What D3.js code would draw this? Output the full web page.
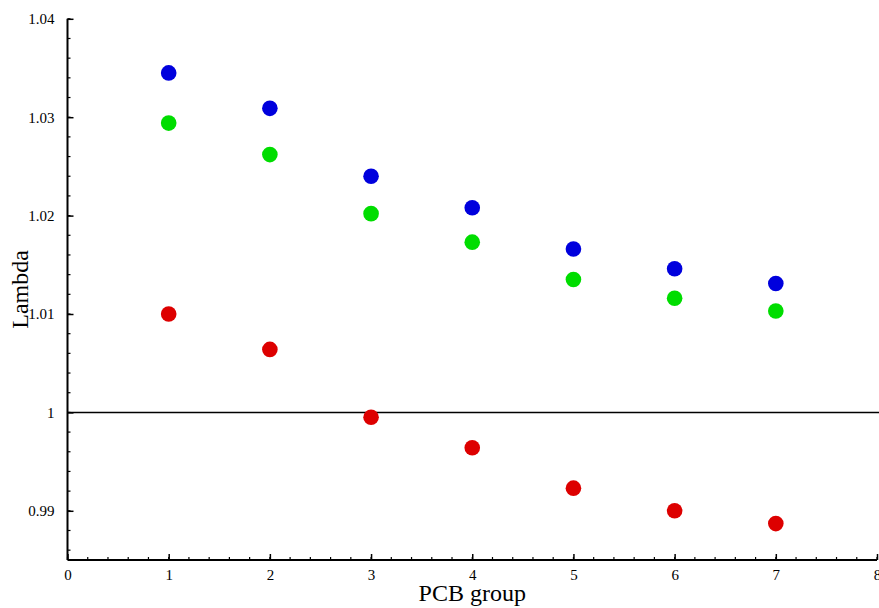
<!DOCTYPE html>
<html>
<head>
<meta charset="utf-8">
<script src="https://cdn.jsdelivr.net/npm/d3@7"></script>
<style>
  body { margin: 0; background: #fff; }
  svg text { font-family: "Liberation Serif", "DejaVu Serif", serif; fill: #000; }
</style>
</head>
<body>
<svg id="chart" width="879" height="608"></svg>
<script>
// PCB groups on the x axis
const groups = [1, 2, 3, 4, 5, 6, 7];

// lambda values per series
const blueValues  = [1.0345, 1.0309, 1.0240, 1.0208, 1.0166, 1.0146, 1.0131];
const greenValues = [1.0294, 1.0262, 1.0202, 1.0173, 1.0135, 1.0116, 1.0103];
const redValues   = [1.0100, 1.0064, 0.9995, 0.9964, 0.9923, 0.9900, 0.9887];

const xTicks = [0, 1, 2, 3, 4, 5, 6, 7, 8];
const yTicks = [0.99, 1, 1.01, 1.02, 1.03, 1.04];

const series = [
    {values: blueValues,  color: "#0000dd"},
    {values: greenValues, color: "#00dd00"},
    {values: redValues,   color: "#dd0000"}
];

const svg = d3.select("#chart");

const plotLeft = 67.5, plotRight = 877, plotTop = 18.8, plotBottom = 560;

const x = d3.scaleLinear().domain([0, 8]).range([plotLeft, plotRight]);
const y = d3.scaleLinear().domain([0.985, 1.04]).range([plotBottom, plotTop]);

// reference line at lambda = 1
svg.append("line")
    .attr("x1", plotLeft).attr("x2", 879)
    .attr("y1", y(1)).attr("y2", y(1))
    .attr("stroke", "#000")
    .attr("stroke-width", 1.5);

// minor ticks
const xMinor = d3.range(0, 8.001, 0.2);
const yMinor = d3.range(0.986, 1.0401, 0.002);

svg.append("g").selectAll("line")
    .data(xMinor)
    .enter().append("line")
    .attr("x1", d => x(d)).attr("x2", d => x(d))
    .attr("y1", plotBottom).attr("y2", plotBottom - 3)
    .attr("stroke", "#000").attr("stroke-width", 1.2);

svg.append("g").selectAll("line")
    .data(yMinor)
    .enter().append("line")
    .attr("x1", plotLeft).attr("x2", plotLeft + 3)
    .attr("y1", d => y(d)).attr("y2", d => y(d))
    .attr("stroke", "#000").attr("stroke-width", 1.2);

// X axis (ticks pointing inward)
const xAxis = svg.append("g")
    .attr("transform", `translate(0,${plotBottom})`)
    .call(d3.axisBottom(x).tickValues(xTicks).tickFormat(d3.format("d")).tickSize(-6).tickPadding(9));
xAxis.select(".domain").attr("stroke-width", 2).attr("d", `M${plotLeft},0H${plotRight}`);
xAxis.selectAll(".tick line").attr("stroke-width", 1.5);
xAxis.selectAll(".tick text")
    .style("font-family", "Liberation Serif")
    .style("font-size", "15px");

// Y axis
const yAxis = svg.append("g")
    .attr("transform", `translate(${plotLeft},0)`)
    .call(d3.axisLeft(y).tickValues(yTicks).tickFormat(d => d3.format("~g")(d)).tickSize(-6).tickPadding(13));
yAxis.select(".domain").attr("stroke-width", 2).attr("d", `M0,${plotTop}V${plotBottom}`);
yAxis.selectAll(".tick line").attr("stroke-width", 1.5);
yAxis.selectAll(".tick text")
    .style("font-family", "Liberation Serif")
    .style("font-size", "15px");

// points
series.forEach(s => {
    svg.append("g").selectAll("circle")
        .data(groups)
        .enter().append("circle")
        .attr("cx", d => x(d))
        .attr("cy", (d, i) => y(s.values[i]))
        .attr("r", 7.8)
        .attr("fill", s.color);
});

// axis titles
svg.append("text")
    .attr("x", (plotLeft + plotRight) / 2)
    .attr("y", 601)
    .attr("text-anchor", "middle")
    .style("font-size", "24px")
    .text("PCB group");

svg.append("text")
    .attr("transform", `translate(28,${(plotTop + plotBottom) / 2}) rotate(-90)`)
    .attr("text-anchor", "middle")
    .style("font-size", "24px")
    .text("Lambda");
</script>
</body>
</html>
